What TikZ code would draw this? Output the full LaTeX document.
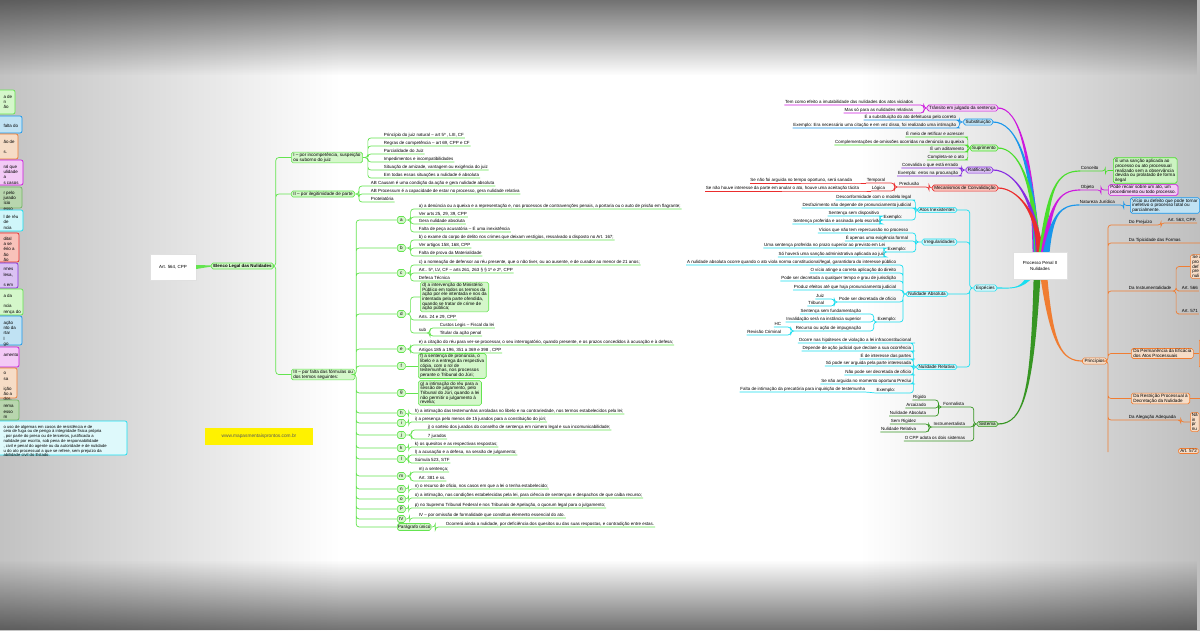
\documentclass[tikz,border=0pt]{standalone}
\usepackage{fontspec}
\setmainfont{Liberation Sans}
\usetikzlibrary{calc,shadows,fadings}

\definecolor{mmgreen}{RGB}{100,228,80}
\definecolor{mmgreenl}{RGB}{212,247,202}
\definecolor{cmag}{RGB}{205,25,222}
\definecolor{cmagl}{RGB}{243,202,246}
\definecolor{cblue}{RGB}{25,150,235}
\definecolor{cbluel}{RGB}{192,226,243}
\definecolor{cgreen}{RGB}{75,222,45}
\definecolor{cgreenl}{RGB}{204,243,194}
\definecolor{cpurp}{RGB}{135,45,225}
\definecolor{cpurpl}{RGB}{218,194,243}
\definecolor{cred}{RGB}{235,45,45}
\definecolor{credl}{RGB}{248,194,186}
\definecolor{ccyan}{RGB}{25,222,240}
\definecolor{ccyanl}{RGB}{208,246,250}
\definecolor{cdgreen}{RGB}{55,150,35}
\definecolor{cdgreenl}{RGB}{198,230,188}
\definecolor{cgrgreen}{RGB}{115,180,100}
\definecolor{cgrgreenl}{RGB}{184,214,174}
\definecolor{corange}{RGB}{240,125,50}
\definecolor{corangel}{RGB}{246,220,198}

\tikzfading[name=fadetop, top color=transparent!35, bottom color=transparent!100]
\tikzfading[name=fadebottom, top color=transparent!100, bottom color=transparent!35]

% thick tapered branch: colour, start, control 1, control 2, end, end offset
\newcommand\branch[6]{%
  \fill[#1] ($(#2)+(-3.4,0)$) .. controls ($(#3)+(-1.4,0)$) and ($(#4)+(#6)$) .. ($(#5)+(#6)$)
    -- ($(#5)-(#6)$) .. controls ($(#4)-(#6)$) and ($(#3)+(1.4,0)$) .. ($(#2)+(3.4,0)$) -- cycle;}

\begin{document}
\begin{tikzpicture}[x=1pt, y=-1pt,
    txt/.style={font=\fontsize{4.45}{5.1}\selectfont},
    leaf/.style={txt, inner sep=0.7pt, text height=3.2pt, text depth=1pt, anchor=west},
    leafr/.style={leaf, anchor=east},
    note/.style={font=\fontsize{4.6}{4.7}\selectfont, rounded corners=1.8pt, line width=0.6pt,
                 inner xsep=2pt, inner ysep=0.9pt, align=left},
    gnote/.style={note, draw=mmgreen, fill=mmgreenl},
    letter/.style={gnote, minimum width=8pt, minimum height=7pt, inner sep=0.6pt, align=center, anchor=west},
    con/.style={line width=0.7pt, rounded corners=3pt},
    gcon/.style={con, draw=mmgreen},
    sidebox/.style={rounded corners=2pt, line width=0.7pt}
]

% Background
\useasboundingbox (0,0) rectangle (1200,630);
\shade[left color=black!24, right color=white] (0,0) rectangle (340,630);
\fill[white] (340,0) rectangle (860,630);
\shade[left color=white, right color=black!25] (860,0) rectangle (1200,630);

% Notes cut by the left border
\draw[sidebox, draw=mmgreen, fill=mmgreenl] (-10,90) rectangle (15,114);
\node[txt, anchor=north west, align=left] (s1) at (0,92) {a de\\n\\ão};
\draw[sidebox, draw=cblue, fill=cbluel] (-10,116) rectangle (22,133);
\node[txt, anchor=north west, align=left] (s2) at (0,121) {falta do};
\draw[sidebox, draw=corange, fill=corangel] (-10,134) rectangle (18,159);
\node[txt, anchor=north west, align=left] (s3) at (0,137) {ão de\\~\\s.};
\draw[sidebox, draw=cmag, fill=cmagl] (-10,160) rectangle (23,185);
\node[txt, anchor=north west, align=left] (s4) at (0,162) {ral que\\ulidade\\a\\s casos};
\draw[sidebox, draw=cgrgreen, fill=cgrgreenl] (-10,187) rectangle (22,208);
\node[txt, anchor=north west, align=left] (s5) at (0,188) {r pelo\\jurado\\ício\\esso};
\draw[sidebox, draw=ccyan, fill=ccyanl] (-10,210) rectangle (23,231);
\node[txt, anchor=north west, align=left] (s6) at (0,212) {l de réu\\de\\ncia};
\draw[sidebox, draw=cred, fill=credl] (-10,233) rectangle (19,262);
\node[txt, anchor=north west, align=left] (s7) at (0,234) {dital\\a se\\ério a\\ão\\ão\\ão};
\draw[sidebox, draw=cpurp, fill=cpurpl] (-10,263) rectangle (18,288);
\node[txt, anchor=north west, align=left] (s8) at (0,265) {rmes\\lesa,\\~\\s em};
\draw[sidebox, draw=mmgreen, fill=mmgreenl] (-10,289) rectangle (23,315);
\node[txt, anchor=north west, align=left] (s9) at (0,291) {a da\\~\\ncia\\rença do};
\draw[sidebox, draw=cblue, fill=cbluel] (-10,316) rectangle (22,345);
\node[txt, anchor=north west, align=left] (s10) at (0,318) {ação\\nto da\\rtar\\l\\go};
\draw[sidebox, draw=cmag, fill=cmagl] (-10,347) rectangle (19,367);
\node[txt, anchor=north west, align=left] (s11) at (0,350) {amento};
\draw[sidebox, draw=corange, fill=corangel] (-10,368) rectangle (17,398);
\node[txt, anchor=north west, align=left] (s12) at (0,369) {o\\sa\\~\\ição\\ão a\\dos.};
\draw[sidebox, draw=cgrgreen, fill=cgrgreenl] (-10,400) rectangle (19,420);
\node[txt, anchor=north west, align=left] (s13) at (0,402) {rema\\esso\\m};
\draw[sidebox, draw=ccyan, fill=ccyanl!70] (-10,421) rectangle (127,455);
\node[font=\fontsize{4.2}{4.8}\selectfont, anchor=north west, align=left] (s14) at (0,421.5) {o uso de algemas em casos de resistência e de\\ceio de fuga ou de perigo à integridade física própria\\, por parte do preso ou de terceiros, justificada a\\nalidade por escrito, sob pena de responsabilidade\\, civil e penal do agente ou da autoridade e de nulidade\\u do ato processual a que se refere, sem prejuízo da\\abilidade civil do Estado.};

% Art. 564 and its list
\node[draw=black!12, fill=white, drop shadow={opacity=0.2, shadow xshift=0.8pt, shadow yshift=-0.8pt},
      minimum width=46, minimum height=26, txt] (art) at (173,267) {Art. 564, CPP};
\node[gnote, font=\fontsize{4.4}{5}\bfseries, anchor=west] (elenco) at (211,266) {Elenco Legal das Nulidades};
\fill[mmgreen] ($(art.east)+(0,-2)$) -- ($(elenco.west)+(0,-0.6)$) -- ($(elenco.west)+(0,0.6)$) -- ($(art.east)+(0,2)$) -- cycle;

\node[gnote, anchor=west] (nI) at (291,157.5) {I – por incompetência, suspeição\\ou suborno do juiz};
\node[gnote, anchor=west] (nII) at (291,194) {II – por ilegitimidade de parte};
\node[gnote, anchor=west] (nIII) at (291,374.5) {III – por falta das fórmulas ou\\dos termos seguintes:};
\draw[gcon] (elenco.east) -- ++(2,0) |- (nI.west) (elenco.east) -- ++(2,0) |- (nII.west)
  (elenco.east) -- ++(2,0) |- (nIII.west);

% I
\node[leaf] (i1) at (383,135) {Princípio do juiz natural – art 5º , LIII, CF};
\node[leaf] (i2) at (383,143) {Regras de competência – art 69, CPP e CF};
\node[leaf] (i3) at (383,151) {Parcialidade do Juiz};
\node[leaf] (i4) at (383,159) {Impedimentos e incompatibilidades};
\node[leaf] (i5) at (383,167) {Situação de amizade, vantagem ou exigência do juiz};
\node[leaf] (i6) at (383,175) {Em todas essas situações a nulidade é absoluta};
\draw[gcon] (nI.east) -- ++(5,0) |- (i1.south west) -- (i1.south east)
  (nI.east) -- ++(5,0) |- (i2.south west) -- (i2.south east)
  (nI.east) -- ++(5,0) |- (i3.south west) -- (i3.south east)
  (nI.east) -- ++(5,0) |- (i4.south west) -- (i4.south east)
  (nI.east) -- ++(5,0) |- (i5.south west) -- (i5.south east)
  (nI.east) -- ++(5,0) |- (i6.south west) -- (i6.south east);

% II
\node[leaf] (ii1) at (370,183) {AB Causam é uma condição da ação e gera nulidade absoluta};
\node[leaf] (ii2) at (370,191) {AB Processum  é a capacidade de estar no processo,  gera nulidade relativa};
\node[leaf] (ii3) at (370,199) {Protelatória};
\draw[gcon] (nII.east) -- ++(4,0) |- (ii1.south west) -- (ii1.south east)
  (nII.east) -- ++(4,0) |- (ii2.south west) -- (ii2.south east)
  (nII.east) -- ++(4,0) |- (ii3.south west) -- (ii3.south east);

% III letters
\node[letter] (la) at (397,220) {a};
\node[letter] (lb) at (397,248) {b};
\node[letter] (lc) at (397,273) {c};
\node[letter] (ld) at (397,314) {d};
\node[letter] (le) at (397,349) {e};
\node[letter] (lf) at (397,366) {f};
\node[letter] (lg) at (397,393) {g};
\node[letter] (lh) at (397,413) {h};
\node[letter] (li) at (397,423) {i};
\node[letter] (lj) at (397,435) {j};
\node[letter] (lk) at (397,448) {k};
\node[letter] (ll) at (397,459) {l};
\node[letter] (lm) at (397,476) {m};
\node[letter] (ln) at (397,489) {n};
\node[letter] (lo) at (397,499) {o};
\node[letter] (lp) at (397,509) {p};
\node[letter] (lIV) at (397,519) {IV};
\node[letter] (lPU) at (397,527) {Parágrafo único};
\draw[gcon] (nIII.east) -- ++(1,0) |- (la.west) (nIII.east) -- ++(1,0) |- (lb.west)
  (nIII.east) -- ++(1,0) |- (lc.west) (nIII.east) -- ++(1,0) |- (ld.west)
  (nIII.east) -- ++(1,0) |- (le.west) (nIII.east) -- ++(1,0) |- (lf.west)
  (nIII.east) -- ++(1,0) |- (lg.west) (nIII.east) -- ++(1,0) |- (lh.west)
  (nIII.east) -- ++(1,0) |- (li.west) (nIII.east) -- ++(1,0) |- (lj.west)
  (nIII.east) -- ++(1,0) |- (lk.west) (nIII.east) -- ++(1,0) |- (ll.west)
  (nIII.east) -- ++(1,0) |- (lm.west) (nIII.east) -- ++(1,0) |- (ln.west)
  (nIII.east) -- ++(1,0) |- (lo.west) (nIII.east) -- ++(1,0) |- (lp.west)
  (nIII.east) -- ++(1,0) |- (lIV.west) (nIII.east) -- ++(1,0) |- (lPU.west);

% a, b, c
\node[leaf] (a1) at (418,206) {a) a denúncia ou a queixa e a representação e, nos processos de contravenções penais, a portaria ou o auto de prisão em flagrante;};
\node[leaf] (a2) at (418,214) {Ver arts 25, 29, 39, CPP};
\node[leaf] (a3) at (418,221) {Gera nulidade absoluta};
\node[leaf] (a4) at (418,229) {Falta de peça acusatória – É uma inexistência};
\draw[gcon] (la.east) -- ++(5,0) |- (a1.south west) -- (a1.south east)
  (la.east) -- ++(5,0) |- (a2.south west) -- (a2.south east)
  (la.east) -- ++(5,0) |- (a3.south west) -- (a3.south east)
  (la.east) -- ++(5,0) |- (a4.south west) -- (a4.south east);
\node[leaf] (b1) at (418,237) {b) o exame do corpo de delito nos crimes que deixam vestígios, ressalvado o disposto no Art. 167;};
\node[leaf] (b2) at (418,245) {Ver artigos 158, 168, CPP};
\node[leaf] (b3) at (418,253) {Falta de prova da Materialidade};
\draw[gcon] (lb.east) -- ++(5,0) |- (b1.south west) -- (b1.south east)
  (lb.east) -- ++(5,0) |- (b2.south west) -- (b2.south east)
  (lb.east) -- ++(5,0) |- (b3.south west) -- (b3.south east);
\node[leaf] (c1) at (418,262) {c) a nomeação de defensor ao réu presente, que o não tiver, ou ao ausente, e de curador ao menor de 21 anos;};
\node[leaf] (c2) at (418,270) {Art.. 5º, LV, CF – arts 261, 263 § § 1º e 2º, CPP};
\node[leaf] (c3) at (418,278) {Defesa Técnica};
\draw[gcon] (lc.east) -- ++(5,0) |- (c1.south west) -- (c1.south east)
  (lc.east) -- ++(5,0) |- (c2.south west) -- (c2.south east)
  (lc.east) -- ++(5,0) |- (c3.south west) -- (c3.south east);

% d
\node[gnote, anchor=west] (bd) at (420,297) {d) a intervenção do Ministério\\Público em todos os termos da\\ação por ele intentada e nos da\\intentada pela parte ofendida,\\quando se tratar de crime de\\ação pública;};
\node[leaf] (d2) at (418,317) {Arts. 24 e 29, CPP};
\node[leaf] (dsub) at (418,330) {sub};
\node[leaf] (d3) at (439,325) {Custos Legis – Fiscal da lei};
\node[leaf] (d4) at (439,333) {Titular da ação penal};
\draw[gcon] (ld.east) -- ++(5,0) |- (bd.west)
  (ld.east) -- ++(5,0) |- (d2.south west) -- (d2.south east)
  (ld.east) -- ++(5,0) |- (dsub.south west) -- (dsub.south east);
\draw[gcon] (dsub.south east) -- ++(3,0) |- (d3.south west) -- (d3.south east)
  (dsub.south east) -- ++(3,0) |- (d4.south west) -- (d4.south east);

% e, f, g
\node[leaf] (e1) at (418,342) {e) a citação do réu para ver-se processar, o seu interrogatório, quando presente, e os prazos concedidos à acusação e à defesa;};
\node[leaf] (e2) at (418,350) {Artigos 185 a 196, 351 a 369 e 398 , CPP};
\draw[gcon] (le.east) -- ++(5,0) |- (e1.south west) -- (e1.south east)
  (le.east) -- ++(5,0) |- (e2.south west) -- (e2.south east);
\node[gnote, anchor=west] (bf) at (418,366) {f) a sentença de pronúncia, o\\libelo e a entrega da respectiva\\cópia, com o rol de\\testemunhas, nos processos\\perante o Tribunal do Júri;};
\node[gnote, anchor=west] (bg) at (418,393) {g) a intimação do réu para a\\sessão de julgamento, pelo\\Tribunal do Júri, quando a lei\\não permitir o julgamento à\\revelia;};
\draw[gcon] (lf.east) -- (bf.west) (lg.east) -- (bg.west);

% h ... p, IV, paragraph
\node[leaf] (h1) at (414,411) {h) a intimação das testemunhas arroladas no libelo e na contrariedade, nos termos estabelecidos pela lei;};
\node[leaf] (i1b) at (414,419) {i) a presença pelo menos de 15 jurados para a constituição do júri;};
\node[leaf] (j1) at (427,427) {j) o sorteio dos jurados do conselho de sentença em número legal e sua incomunicabilidade;};
\node[leaf] (j2) at (427,436) {7 jurados};
\node[leaf] (k1) at (414,444) {k) os quesitos e as respectivas respostas;};
\node[leaf] (l1) at (414,452) {l) a acusação e a defesa, na sessão de julgamento;};
\node[leaf] (l2) at (414,460) {Súmula 523, STF};
\node[leaf] (m1) at (418,469) {m) a sentença;};
\node[leaf] (m2) at (418,478) {Art. 381 e ss.};
\node[leaf] (n1) at (414,486) {n) o recurso de oficio, nos casos em que a lei o tenha estabelecido;};
\node[leaf] (o1) at (414,495) {o) a intimação, nas condições estabelecidas pela lei, para ciência de sentenças e despachos de que caiba recurso;};
\node[leaf] (p1) at (414,505) {p) no Supremo Tribunal Federal e nos Tribunais de Apelação, o quorum legal para o julgamento;};
\node[leaf] (iv1) at (418,515) {IV – por omissão de formalidade que constitua elemento essencial do ato.};
\node[leaf] (pu1) at (445,524) {Ocorrerá ainda a nulidade, por deficiência dos quesitos ou das suas respostas, e contradição entre estas.};
\draw[gcon] (lh.east) -- ++(3,0) |- (h1.south west) -- (h1.south east)
  (li.east) -- ++(3,0) |- (i1b.south west) -- (i1b.south east)
  (lj.east) -- ++(6,0) |- (j1.south west) -- (j1.south east)
  (lj.east) -- ++(6,0) |- (j2.south west) -- (j2.south east)
  (lk.east) -- ++(3,0) |- (k1.south west) -- (k1.south east)
  (ll.east) -- ++(3,0) |- (l1.south west) -- (l1.south east)
  (ll.east) -- ++(3,0) |- (l2.south west) -- (l2.south east)
  (lm.east) -- ++(5,0) |- (m1.south west) -- (m1.south east)
  (lm.east) -- ++(5,0) |- (m2.south west) -- (m2.south east)
  (ln.east) -- ++(3,0) |- (n1.south west) -- (n1.south east)
  (lo.east) -- ++(3,0) |- (o1.south west) -- (o1.south east)
  (lp.east) -- ++(3,0) |- (p1.south west) -- (p1.south east)
  (lIV.east) -- ++(4,0) |- (iv1.south west) -- (iv1.south east)
  (lPU.east) -- ++(4,0) |- (pu1.south west) -- (pu1.south east);

% Site
\node[fill=yellow, minimum width=108, minimum height=17, font=\fontsize{4.8}{5}\selectfont, text=black!65] (site) at (259,436.5) {www.mapasmentaisprontos.com.br};

% Right map: convalidation
\node[note, draw=cmag, fill=cmagl, anchor=east] (trans) at (998,108) {Trânsito em julgado da sentença};
\node[leafr] (t1) at (914,102) {Tem como efeito a imutabilidade das nulidades dos atos viciados};
\node[leafr] (t2) at (914,110) {Mas só para as nulidades relativas};
\draw[con, cmag] (trans.west) -- ++(-3,0) |- (t1.south east) -- (t1.south west)
  (trans.west) -- ++(-3,0) |- (t2.south east) -- (t2.south west);

\node[note, draw=cblue, fill=cbluel, anchor=east] (subst) at (993,122) {Substituição};
\node[leafr] (u1) at (957,117) {É a substituição do ato defeituoso pelo correto};
\node[leafr] (u2) at (957,125) {Exemplo: Era necessário uma  citação e em vez disso, foi realizado uma intimação};
\draw[con, cblue] (subst.west) -- ++(-4,0) |- (u1.south east) -- (u1.south west)
  (subst.west) -- ++(-4,0) |- (u2.south east) -- (u2.south west);

\node[note, draw=cgreen, fill=cgreenl, anchor=east] (supr) at (998,148) {Suprimento};
\node[leafr] (p1r) at (965,134) {É meio de retificar e acrescer};
\node[leafr] (p2r) at (965,142) {Complementações de omissões ocorridas na denúncia ou queixa};
\node[leafr] (p3r) at (965,149) {É um aditamento};
\node[leafr] (p4r) at (965,157) {Completa-se o ato};
\draw[con, cgreen] (supr.west) -- ++(-2,0) |- (p1r.south east) -- (p1r.south west)
  (supr.west) -- ++(-2,0) |- (p2r.south east) -- (p2r.south west)
  (supr.west) -- ++(-2,0) |- (p3r.south east) -- (p3r.south west)
  (supr.west) -- ++(-2,0) |- (p4r.south east) -- (p4r.south west);

\node[note, draw=cpurp, fill=cpurpl, anchor=east] (ratif) at (993,170) {Ratificação};
\node[leafr] (r1) at (959,165) {Convalida o que está errado};
\node[leafr] (r2) at (959,173) {Exemplo: erros na procuração};
\draw[con, cpurp] (ratif.west) -- ++(-4,0) |- (r1.south east) -- (r1.south west)
  (ratif.west) -- ++(-4,0) |- (r2.south east) -- (r2.south west);

\node[note, draw=cred, fill=credl, anchor=east] (mec) at (998,188) {Mecanismos de Convalidação};
\node[leafr] (prec) at (920,184) {Preclusão};
\node[leafr] (temp) at (886,180) {Temporal};
\node[leafr] (logi) at (886,188) {Lógica};
\node[leafr] (temp1) at (853,180) {Se não foi arguida no tempo oportuno, será sanada};
\node[leafr] (logi1) at (860,188) {Se não houve interesse da parte em anular o ato, houve uma aceitação tácita};
\draw[con, cred] (mec.west) -- ++(-3,0) |- (prec.south east) -- (prec.south west);
\draw[con, cred] (prec.south west) -- ++(-4,0) |- (temp.south east) -- (temp.south west)
  (prec.south west) -- ++(-4,0) |- (logi.south east) -- (logi.south west);
\draw[con, cred] (temp.south west) -- (temp1.south east) -- (temp1.south west)
  (logi.south west) -- (logi1.south east) -- (logi1.south west);

% Right map: kinds
\node[note, draw=ccyan, fill=ccyanl, anchor=east] (esp) at (997,288) {Espécies};
\node[note, draw=ccyan, fill=ccyanl, anchor=east] (ai) at (957,210) {Atos Inexistentes};
\node[note, draw=ccyan, fill=ccyanl, anchor=east] (irr) at (957,242) {Irregularidades};
\node[note, draw=ccyan, fill=ccyanl, anchor=east] (na) at (948,294) {Nulidade Absoluta};
\node[note, draw=ccyan, fill=ccyanl, anchor=east] (nr) at (957,367) {Nulidade Relativa};
\draw[con, ccyan] (esp.west) -- ++(-4,0) |- (ai.east) (esp.west) -- ++(-4,0) |- (irr.east)
  (esp.west) -- ++(-4,0) |- (na.east) (esp.west) -- ++(-4,0) |- (nr.east);

\node[leafr] (ai1) at (912,197) {Desconformidade com o modelo legal};
\node[leafr] (ai2) at (912,205) {Desfazimento não depende de pronunciamento judicial};
\node[leafr] (aiex) at (903,217) {Exemplo:};
\node[leafr] (aie1) at (880,213) {Sentença sem dispositivo};
\node[leafr] (aie2) at (882,221) {Sentença proferida e assinada pelo escrivão};
\draw[con, ccyan] (ai.west) -- ++(-2,0) |- (ai1.south east) -- (ai1.south west)
  (ai.west) -- ++(-2,0) |- (ai2.south east) -- (ai2.south west)
  (ai.west) -- ++(-2,0) |- (aiex.south east) -- (aiex.south west);
\draw[con, ccyan] (aiex.south west) -- ++(-3,0) |- (aie1.south east) -- (aie1.south west)
  (aiex.south west) -- ++(-3,0) |- (aie2.south east) -- (aie2.south west);

\node[leafr] (ir1) at (909,230) {Vícios que não tem repercussão no processo};
\node[leafr] (ir2) at (909,238) {É apenas uma exigência formal};
\node[leafr] (irex) at (907,249) {Exemplo:};
\node[leafr] (ire1) at (886,245) {Uma sentença proferida no prazo superior ao previsto em Lei};
\node[leafr] (ire2) at (886,254) {Só haverá uma sanção administrativa aplicada ao juiz};
\draw[con, ccyan] (irr.west) -- ++(-6,0) |- (ir1.south east) -- (ir1.south west)
  (irr.west) -- ++(-6,0) |- (ir2.south east) -- (ir2.south west)
  (irr.west) -- ++(-6,0) |- (irex.south east) -- (irex.south west);
\draw[con, ccyan] (irex.south west) -- ++(-3,0) |- (ire1.south east) -- (ire1.south west)
  (irex.south west) -- ++(-3,0) |- (ire2.south east) -- (ire2.south west);

\node[leafr] (na1) at (897,262) {A nulidade absoluta ocorre quando o ato viola norma constitucional/legal, garantidora do interesse público};
\node[leafr] (na2) at (897,270) {O vício atinge a correta aplicação do direito};
\node[leafr] (na3) at (897,278) {Pode ser decretada a qualquer tempo e grau de jurisdição};
\node[leafr] (na4) at (897,287) {Produz efeitos até que haja pronunciamento judicial};
\node[leafr] (na5) at (897,299) {Pode ser decretada de ofício};
\node[leafr] (na51) at (825,296) {Juiz};
\node[leafr] (na52) at (825,303) {Tribunal};
\node[leafr] (naex) at (897,319) {Exemplo:};
\node[leafr] (nae1) at (862,311) {Sentença sem fundamentação};
\node[leafr] (nae2) at (862,319) {Invalidação será na instância superior};
\node[leafr] (nae3) at (862,328) {Recurso ou ação de impugnação};
\node[leafr] (hc) at (782,324) {HC};
\node[leafr] (rc) at (782,332) {Revisão Criminal};
\draw[con, ccyan] (na.west) -- ++(-3,0) |- (na1.south east) -- (na1.south west)
  (na.west) -- ++(-3,0) |- (na2.south east) -- (na2.south west)
  (na.west) -- ++(-3,0) |- (na3.south east) -- (na3.south west)
  (na.west) -- ++(-3,0) |- (na4.south east) -- (na4.south west)
  (na.west) -- ++(-3,0) |- (na5.south east) -- (na5.south west)
  (na.west) -- ++(-3,0) |- (naex.south east) -- (naex.south west);
\draw[con, ccyan] (na5.south west) -- ++(-4,0) |- (na51.south east) -- (na51.south west)
  (na5.south west) -- ++(-4,0) |- (na52.south east) -- (na52.south west);
\draw[con, ccyan] (naex.south west) -- ++(-3,0) |- (nae1.south east) -- (nae1.south west)
  (naex.south west) -- ++(-3,0) |- (nae2.south east) -- (nae2.south west)
  (naex.south west) -- ++(-3,0) |- (nae3.south east) -- (nae3.south west);
\draw[con, ccyan] (nae3.south west) -- ++(-4,0) |- (hc.south east) -- (hc.south west)
  (nae3.south west) -- ++(-4,0) |- (rc.south east) -- (rc.south west);

\node[leafr] (nr1) at (912,340) {Ocorre nas hipóteses de violação a lei infraconstitucional};
\node[leafr] (nr2) at (912,348) {Depende de ação judicial que declare a sua ocorrência};
\node[leafr] (nr3) at (912,356) {É de interesse das partes};
\node[leafr] (nr4) at (912,363) {Só pode ser arguida pela parte interessada};
\node[leafr] (nr5) at (912,372) {Não pode ser decretada de ofício};
\node[leafr] (nr6) at (912,381) {Se não arguida no momento oportuno Preclui};
\node[leafr] (nrex) at (896,390) {Exemplo:};
\node[leafr] (nre1) at (866,389) {Falta de intimação da precatória para inquirição de testemunha};
\draw[con, ccyan] (nr.west) -- ++(-3,0) |- (nr1.south east) -- (nr1.south west)
  (nr.west) -- ++(-3,0) |- (nr2.south east) -- (nr2.south west)
  (nr.west) -- ++(-3,0) |- (nr3.south east) -- (nr3.south west)
  (nr.west) -- ++(-3,0) |- (nr4.south east) -- (nr4.south west)
  (nr.west) -- ++(-3,0) |- (nr5.south east) -- (nr5.south west)
  (nr.west) -- ++(-3,0) |- (nr6.south east) -- (nr6.south west)
  (nr.west) -- ++(-3,0) |- (nrex.south east) -- (nrex.south west);
\draw[con, ccyan] (nrex.south west) -- (nre1.south east) -- (nre1.south west);

% Right map: systems
\node[note, draw=cdgreen, fill=cdgreenl, anchor=east] (sis) at (998,424) {Sistema};
\node[leafr] (fo) at (965,404) {Formalista};
\node[leafr] (fo1) at (927,397) {Rígido};
\node[leafr] (fo2) at (927,405) {Arcaizado};
\node[leafr] (fo3) at (927,413) {Nulidade Absoluta};
\node[leafr] (ins) at (966,424) {Instrumentalista};
\node[leafr] (ins1) at (917,421) {Sem Rigidez};
\node[leafr] (ins2) at (917,429) {Nulidade Relativa};
\node[leafr] (cpp) at (966,438) {O CPP adota os dois sistemas};
\draw[con, cdgreen] (sis.west) -- ++(-3,0) |- (fo.south east) -- (fo.south west)
  (sis.west) -- ++(-3,0) |- (ins.south east) -- (ins.south west)
  (sis.west) -- ++(-3,0) |- (cpp.south east) -- (cpp.south west);
\draw[con, cdgreen] (fo.south west) -- ++(-4,0) |- (fo1.south east) -- (fo1.south west)
  (fo.south west) -- ++(-4,0) |- (fo2.south east) -- (fo2.south west)
  (fo.south west) -- ++(-4,0) |- (fo3.south east) -- (fo3.south west);
\draw[con, cdgreen] (ins.south west) -- ++(-4,0) |- (ins1.south east) -- (ins1.south west)
  (ins.south west) -- ++(-4,0) |- (ins2.south east) -- (ins2.south west);

% Right map: definitions
\node[leaf] (conc) at (1080,168) {Conceito};
\node[note, draw=cgreen, fill=cgreenl, anchor=west] (concb) at (1113,170.5) {É uma sanção aplicada ao\\processo ou ato processual\\realizado sem a observância\\devida  ou prolatado de forma\\ilegal};
\node[leaf] (obj) at (1080,187) {Objeto};
\node[note, draw=cmag, fill=cmagl, anchor=west] (objb) at (1108,190) {Pode recair sobre um ato, um\\procedimento ou todo processo.};
\node[leaf] (nat) at (1079,202) {Natureza Jurídica};
\node[note, draw=cblue, fill=cbluel, anchor=west] (natb) at (1130,205.5) {Vício ou defeito que pode tornar\\inefetivo o processo total ou\\parcialmente.};
\draw[con, cgreen] (conc.south west) -- (conc.south east) -- ++(6,0) |- (concb.west);
\draw[con, cmag] (obj.south west) -- (obj.south east) -- ++(6,0) |- (objb.west);
\draw[con, cblue] (nat.south west) -- (nat.south east) -- ++(8,0) |- (natb.west);

% Right map: principles
\node[note, draw=corange, fill=corangel, anchor=east] (pr) at (1107,361) {Princípios};
\node[leaf] (dp) at (1128,222) {Do Prejuízo};
\node[leaf] (a563) at (1167,220) {Art. 563, CPP.};
\node[leaf] (dt) at (1128,240) {Da Tipicidade das Formas};
\coordinate (dtend) at (1205,243);
\node[leaf] (di) at (1128,288) {Da Instrumentalidade};
\node[note, draw=corange, fill=corangel, anchor=west] (dib) at (1190,266.5) {Se a\\pro\\def\\pre\\nuli};
\node[leaf] (a566) at (1181,288) {Art. 566};
\node[leaf] (a571) at (1181,311) {Art. 571};
\node[note, draw=corange, fill=corangel, anchor=west] (dpe) at (1131,353.5) {Da Permanência da Eficácia\\dos Atos Processuais};
\node[note, draw=corange, fill=corangel, anchor=west, minimum height=29, minimum width=14] (dpe2) at (1199,353.5) {};
\node[note, draw=corange, fill=corangel, anchor=west] (dr) at (1131,398.5) {Da Restrição Processual à\\Decretação da Nulidade};
\coordinate (drend) at (1205,398.5);
\node[leaf] (da) at (1128,417) {Da Alegação Adequada};
\node[note, draw=corange, fill=corangel, anchor=west, inner xsep=1.5pt] (dab) at (1190,422) {Nã\\in\\pr\\nu};
\node[note, draw=corange, fill=corangel, anchor=west] (a572) at (1178,451) {Art. 572};
\coordinate (prend) at (1108,452);
\draw[con, corange] (pr.east) -- ++(1,0) |- (dp.south west) -- (dp.south east) -- ++(8,0) |- (a563.south west) -- (a563.south east)
  (pr.east) -- ++(1,0) |- (dt.south west) -- (dt.south east) -- (dtend)
  (pr.east) -- ++(1,0) |- (di.south west) -- (di.south east)
  (pr.east) -- ++(1,0) |- (dpe.west) (pr.east) -- ++(1,0) |- (dr.west)
  (pr.east) -- ++(1,0) |- (da.south west) -- (da.south east) -- ++(4,0) |- (dab.west)
  (pr.east) -- ++(1,0) -- (prend);
\draw[con, corange] (di.south east) -- ++(4,0) |- (dib.west)
  (di.south east) -- ++(4,0) |- (a566.south west) -- (a566.south east)
  (di.south east) -- ++(4,0) |- (a571.south west) -- (a571.south east)
  (dpe.east) -- (dpe2.west) (dr.east) -- (drend);

% Thick branches from the centre
\branch{cmag}{1036,254}{1032,150}{1018,108}{trans.east}{0,0.6}
\branch{cblue}{1037,254}{1033,160}{1016,122}{subst.east}{0,0.6}
\branch{cgreen}{1038,254}{1034,180}{1018,148}{supr.east}{0,0.6}
\branch{cpurp}{1039,254}{1036,200}{1014,170}{ratif.east}{0,0.6}
\branch{cred}{1040,254}{1038,210}{1016,188}{mec.east}{0,0.6}
\branch{ccyan}{1030,276}{1022,290}{1010,288}{esp.east}{0,-0.6}
\branch{cdgreen}{1037,278}{1032,390}{1024,424}{sis.east}{0,-0.6}
\branch{corange}{1044,278}{1052,345}{1062,361}{pr.west}{0,0.6}
\branch{cgreen}{1042,254}{1048,190}{1056,171}{conc.south west}{0,-0.6}
\branch{cmag}{1044,254}{1050,205}{1058,190}{obj.south west}{0,-0.6}
\branch{cblue}{1046,254}{1052,215}{1060,205}{nat.south west}{0,-0.6}

% Centre
\node[draw=black!12, fill=white, drop shadow={opacity=0.2, shadow xshift=0.8pt, shadow yshift=-0.8pt},
      minimum width=54, minimum height=27, align=center, font=\fontsize{4.4}{5.4}\selectfont] (root) at (1040,266) {Processo Penal II\\Nulidades};

% Dark edges
\fill[black!85, path fading=fadetop] (0,0) rectangle (1200,75);
\fill[black!85, path fading=fadebottom] (0,560) rectangle (1200,630);

\end{tikzpicture}
\end{document}
